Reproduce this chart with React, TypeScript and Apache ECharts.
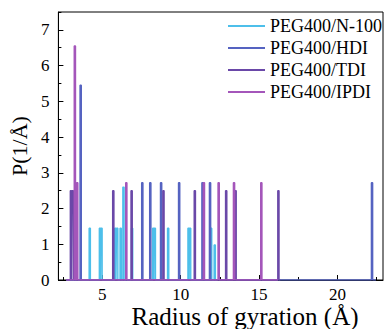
import React, { useEffect, useRef } from "react";
import * as echarts from "echarts";

// Series spike positions (Å) and heights P(1/Å)
const N100_X = [3.35, 4.2, 4.85, 4.95, 5.83, 5.95, 6.17, 6.35, 6.9, 8.25, 8.35, 9.2, 10.5, 10.6, 11.94, 12.17];
const N100_Y = [0.35, 1.45, 1.45, 1.45, 1.45, 1.45, 1.45, 2.6, 1.45, 1.45, 1.45, 1.45, 1.45, 1.45, 1.45, 0.98];
const N100_RANGE = [2.7, 12.3];

const HDI_X = [3.62, 7.55, 8.06, 8.75, 9.9, 11.39, 11.87, 22.2];
const HDI_Y = [5.45, 2.72, 2.72, 2.72, 2.72, 2.72, 2.72, 2.72];
const HDI_RANGE = [2.7, 22.45];

const TDI_X = [3.0, 3.12, 5.7, 6.87, 8.9, 10.9, 12.9, 13.5, 16.23];
const TDI_Y = [2.5, 2.5, 2.5, 2.5, 2.5, 2.5, 2.5, 2.5, 2.5];
const TDI_RANGE = [2.7, 16.35];

const IPDI_X = [3.25, 3.4, 6.53, 11.48, 12.42, 13.4, 15.14];
const IPDI_Y = [6.55, 2.72, 2.72, 2.72, 2.72, 2.72, 2.72];
const IPDI_RANGE = [2.7, 16.2];

const SERIES_NAMES = ["PEG400/N-100", "PEG400/HDI", "PEG400/TDI", "PEG400/IPDI"];
const SERIES_COLORS = ["#4DBFEA", "#5563C1", "#6A48A8", "#A456BA"];

const X_MAJOR = [5, 10, 15, 20];
const X_MINOR = [2.5, 7.5, 12.5, 17.5, 22.5];
const Y_MAJOR = [0, 1, 2, 3, 4, 5, 6, 7];
const Y_MINOR = [0.5, 1.5, 2.5, 3.5, 4.5, 5.5, 6.5, 7.5];

const HALF_BIN = 0.04;

function spikes(xs: number[], ys: number[], range: number[]) {
  const pts: number[][] = [[range[0], 0]];
  xs.forEach((x, i) => {
    pts.push([x - HALF_BIN, 0], [x - HALF_BIN, ys[i]], [x + HALF_BIN, ys[i]], [x + HALF_BIN, 0]);
  });
  pts.push([range[1], 0]);
  return pts;
}

const FONT = "Liberation Serif";

export default function App() {
  const ref = useRef<HTMLDivElement>(null);
  useEffect(() => {
    if (!ref.current) return;
    const chart = echarts.init(ref.current, null, { renderer: "svg" });
    const datasets = [
      spikes(N100_X, N100_Y, N100_RANGE),
      spikes(HDI_X, HDI_Y, HDI_RANGE),
      spikes(TDI_X, TDI_Y, TDI_RANGE),
      spikes(IPDI_X, IPDI_Y, IPDI_RANGE),
    ];
    const xMin = 2.2, xMax = 22.9;
    chart.setOption({
      animation: false,
      backgroundColor: "#fff",
      grid: { left: 52, right: 1, top: 12, bottom: 49, show: true, borderColor: "#000", borderWidth: 1 },
      legend: {
        data: SERIES_NAMES.map((name) => ({ name, icon: "rect" })),
        orient: "vertical",
        left: 228,
        top: 17,
        padding: 0,
        itemGap: 4,
        itemWidth: 37,
        itemHeight: 2,
        textStyle: { fontFamily: FONT, fontSize: 18, color: "#000", lineHeight: 18 },
      },
      xAxis: [
        {
          type: "value",
          min: xMin,
          max: xMax,
          position: "bottom",
          axisLine: { show: true, lineStyle: { color: "#000", width: 1 } },
          axisTick: { show: true, inside: true, length: 5, customValues: X_MAJOR, lineStyle: { color: "#000" } },
          axisLabel: { customValues: X_MAJOR, fontFamily: FONT, fontSize: 17, lineHeight: 15, color: "#000", margin: 7 },
          splitLine: { show: false },
        },
        {
          type: "value",
          min: xMin,
          max: xMax,
          position: "bottom",
          axisLine: { show: false },
          axisTick: { show: true, inside: true, length: 3, customValues: X_MINOR, lineStyle: { color: "#000" } },
          axisLabel: { show: false },
          splitLine: { show: false },
        },
      ],
      yAxis: [
        {
          type: "value",
          min: 0,
          max: 7.5,
          position: "left",
          name: "P(1/Å)",
          nameLocation: "middle",
          nameGap: 23,
          nameTextStyle: { fontFamily: FONT, fontSize: 22, color: "#000" },
          axisLine: { show: true, lineStyle: { color: "#000", width: 1 } },
          axisTick: { show: true, inside: true, length: 5, customValues: Y_MAJOR, lineStyle: { color: "#000" } },
          axisLabel: { customValues: Y_MAJOR, fontFamily: FONT, fontSize: 17, color: "#000", margin: 9 },
          splitLine: { show: false },
        },
        {
          type: "value",
          min: 0,
          max: 7.5,
          position: "left",
          axisLine: { show: false },
          axisTick: { show: true, inside: true, length: 3, customValues: Y_MINOR, lineStyle: { color: "#000" } },
          axisLabel: { show: false },
          splitLine: { show: false },
        },
      ],
      graphic: [
        {
          type: "text",
          x: 245,
          y: 304,
          style: {
            text: "Radius of gyration (Å)",
            fontFamily: FONT,
            fontSize: 25,
            fill: "#000",
            textAlign: "center",
            textVerticalAlign: "top",
          },
        },
      ],
      series: SERIES_NAMES.map((name, i) => ({
        name,
        type: "line",
        xAxisIndex: 0,
        yAxisIndex: 0,
        data: datasets[i],
        symbol: "none",
        showSymbol: false,
        color: SERIES_COLORS[i],
        lineStyle: { color: SERIES_COLORS[i], width: 1.4 },
        z: 2 + i,
      })),
    });
    return () => chart.dispose();
  }, []);
  return <div ref={ref} style={{ width: 384, height: 329, position: "absolute", left: 0, top: 0 }} />;
}
